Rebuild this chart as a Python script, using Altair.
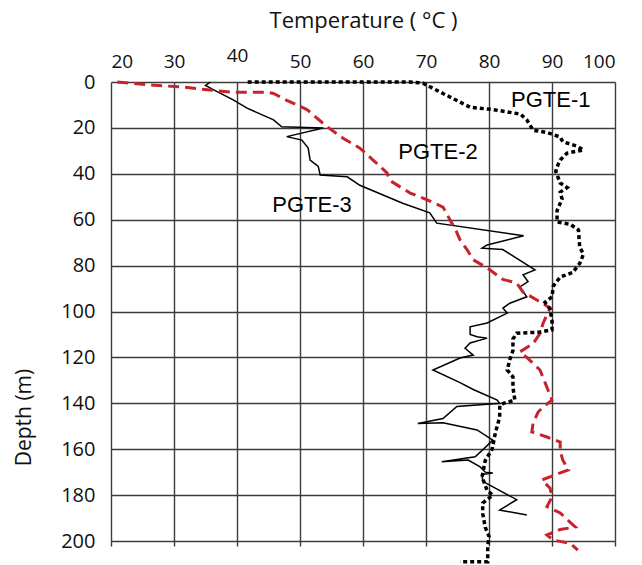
import altair as alt
import pandas as pd

# PGTE-1 (black dotted)
t1 = [41.7, 67.5, 69.5, 72.7, 77, 80.6, 85, 86, 87, 89.2, 91.3, 91.7, 94, 95, 92.4, 91.3, 90.8, 90.6,
      91.3, 92.4, 91.3, 91.6, 90.8, 90.8, 92.9, 94.2, 94.4, 95, 94.4, 93.3, 91.3, 90.2, 90, 88.9, 89.7,
      90, 90, 88, 84.4, 83.8, 83.8, 83.3, 82.9, 83.8, 83.8, 84.1, 82.3, 81.7, 81.7, 81, 80.5, 79.4, 78.9,
      79.7, 80.6, 79, 79, 79.4, 80, 79.8, 79.8, 79.8, 75.4]
d1 = [0, 0, 0.5, 5, 11, 12, 14, 16.5, 21, 22, 24, 26, 28, 29.6, 31, 34, 37, 39,
      44, 46, 48, 51, 56, 61, 62, 64.5, 72, 75, 79, 83, 85, 89, 93.6, 96, 99,
      104, 108, 109, 109.5, 112, 117, 121, 125.5, 128.5, 133, 138.6, 140, 141, 146, 153, 160, 165, 172,
      178, 180, 183.5, 188, 194, 198, 202.5, 207, 209, 209]

# PGTE-2 (red dashed)
t2 = [21, 26.2, 31.4, 35.7, 39.4, 44.8, 45.8, 47.9, 51.1, 54.3, 56.9, 59.5, 61.6, 63.8, 64.3, 67.5, 70.2,
      72.7, 73.8, 74.8, 75.4, 76.5, 77.5, 79.7, 82.2, 84.4, 85.4, 87.6, 89.7, 88.6, 88.1, 87, 84.9, 86,
      88.1, 88.9, 90, 88.6, 87.8, 87, 86.8, 89.2, 91.3, 91.3, 91.7, 92.6, 88.4, 89.7, 90, 89.2, 91.3,
      93.7, 91.3, 89.2, 90.2, 92.9, 94.1]
d2 = [0, 1.3, 2.2, 3.5, 4.5, 4.5, 5, 8, 12, 19.5, 24.6, 28.8, 34, 39.6, 43, 48.4, 51.4,
      54.5, 60, 65, 68.8, 73, 77.5, 81, 86, 87.6, 91.5, 95, 98.5, 105, 109.5, 114, 117.6, 120,
      125.5, 131, 138.6, 141.6, 143.8, 148.6, 152.5, 154.7, 156.9, 160.6, 164.7, 169, 173.4, 177, 180.8, 185, 187.8,
      193.9, 195, 197.4, 199.6, 201, 204]

# PGTE-3 (black solid)
t3 = [35.8, 35, 36, 39.4, 41.6, 45.8, 47.1, 53.7, 47.9, 50.3, 51.3, 51.6, 52.9, 53.2, 57.5, 59.5, 66.3,
      70.6, 71.7, 85.5, 79.7, 78.9, 82.2, 87.3, 85.4, 86.2, 84.9, 86, 83.3, 82.2, 82.9, 79.7, 77, 77,
      78.1, 79.7, 77, 76.2, 77.5, 75.4, 71.1, 75.4, 77.5, 81.3, 81.7, 74.9, 72.7, 68.7, 72.7, 78.1, 80.6,
      79.5, 77.8, 72.5, 76.7, 78.6, 79.4, 80.6, 78.9, 79, 81, 84.4, 81.7, 86]
d3 = [0, 1.5, 3, 7.8, 11.4, 16.5, 19.5, 20, 23.8, 25.3, 28.8, 34, 36.8, 40.5, 41.3, 45, 52.8,
      57, 61.5, 67, 71, 72.4, 73, 81.9, 84, 87, 89.3, 93.6, 96.4, 98.5, 100.7, 105, 106.7, 110,
      111, 111.6, 113.7, 116, 119, 120.3, 125.5, 131, 134, 138.6, 140, 141.4, 146.6, 148.8, 148.5, 151.6, 156,
      159, 163.3, 165.5, 164.7, 167.7, 170, 170.4, 171, 174, 177, 182, 186.5, 188.7]

label_text = ["PGTE-1", "PGTE-2", "PGTE-3"]
label_temp = [89.8, 71.9, 51.9]
label_depth = [7.8, 30.5, 53.6]

x_ticks = list(range(20, 101, 10))
y_ticks = list(range(0, 201, 20))


def frame(ts, ds):
    return pd.DataFrame({"temp": ts, "depth": ds, "idx": list(range(len(ts)))})


xs = alt.Scale(domain=[20, 100], nice=False, zero=False)
ys = alt.Scale(domain=[0, 200], nice=False, reverse=True, zero=False)
GRID = "#3c3c3c"

x_axis = alt.Axis(orient="top", values=x_ticks, title="Temperature ( °C )", ticks=False, domain=False,
                  grid=True, gridColor=GRID, gridWidth=1.4, labelFontSize=19, labelFont="Open Sans",
                  labelColor="#111", labelBaseline="alphabetic",
                  labelPadding={"condition": {"test": "datum.value == 40", "value": 21}, "value": 15},
                  titleFont="Open Sans", titleFontSize=22, titleFontWeight="normal", titleColor="#111",
                  titleY=-55, titleBaseline="alphabetic")
y_axis = alt.Axis(orient="left", values=y_ticks, title="Depth (m)", ticks=False, domain=False,
                  grid=True, gridColor=GRID, gridWidth=1.4, labelFontSize=20, labelFont="Open Sans",
                  labelColor="#111", labelPadding=16, titleFont="Open Sans", titleFontSize=21,
                  titleFontWeight="normal", titleColor="#111", titleX=-87, titleY=335, titleAngle=270,
                  titleAlign="center", titleBaseline="middle")

enc_y = alt.Y("depth:Q", scale=ys, axis=y_axis)
enc_x_none = alt.X("temp:Q", scale=xs, axis=None)

l3 = alt.Chart(frame(t3, d3)).mark_line(color="black", strokeWidth=1.5).encode(
    x=alt.X("temp:Q", scale=xs, axis=x_axis),
    y=enc_y,
    order="idx:Q",
)
l2 = alt.Chart(frame(t2, d2)).mark_line(color="#c8232c", strokeWidth=3, strokeDash=[11, 6]).encode(
    x=enc_x_none, y=enc_y, order="idx:Q",
)
l1 = alt.Chart(frame(t1, d1)).mark_line(color="black", strokeWidth=3.5, strokeDash=[4, 3]).encode(
    x=enc_x_none, y=enc_y, order="idx:Q",
)

bottom_ticks = alt.Chart(pd.DataFrame({"temp": x_ticks, "depth": [200] * len(x_ticks)})).mark_point(opacity=0).encode(
    x=alt.X("temp:Q", scale=xs, axis=alt.Axis(orient="bottom", values=x_ticks, labels=False, title=None,
                                              grid=False, domain=False, ticks=True, tickSize=5,
                                              tickColor=GRID, tickWidth=1.4)),
    y=enc_y,
)

labels = alt.Chart(pd.DataFrame({"text": label_text, "temp": label_temp, "depth": label_depth})).mark_text(
    font="Liberation Sans", fontSize=22, color="black", align="center", baseline="middle"
).encode(
    x=enc_x_none, y=enc_y, text="text:N",
)

chart = alt.layer(l3, l2, l1, labels, bottom_ticks).resolve_axis(x="independent").properties(
    width=504, height=459,
    autosize=alt.AutoSizeParams(type="none"),
    padding={"left": 111, "top": 82, "right": 27, "bottom": 24},
    background="white",
).configure_view(stroke=None)

chart.save("out.html", embed_options={"renderer": "svg", "actions": False})
